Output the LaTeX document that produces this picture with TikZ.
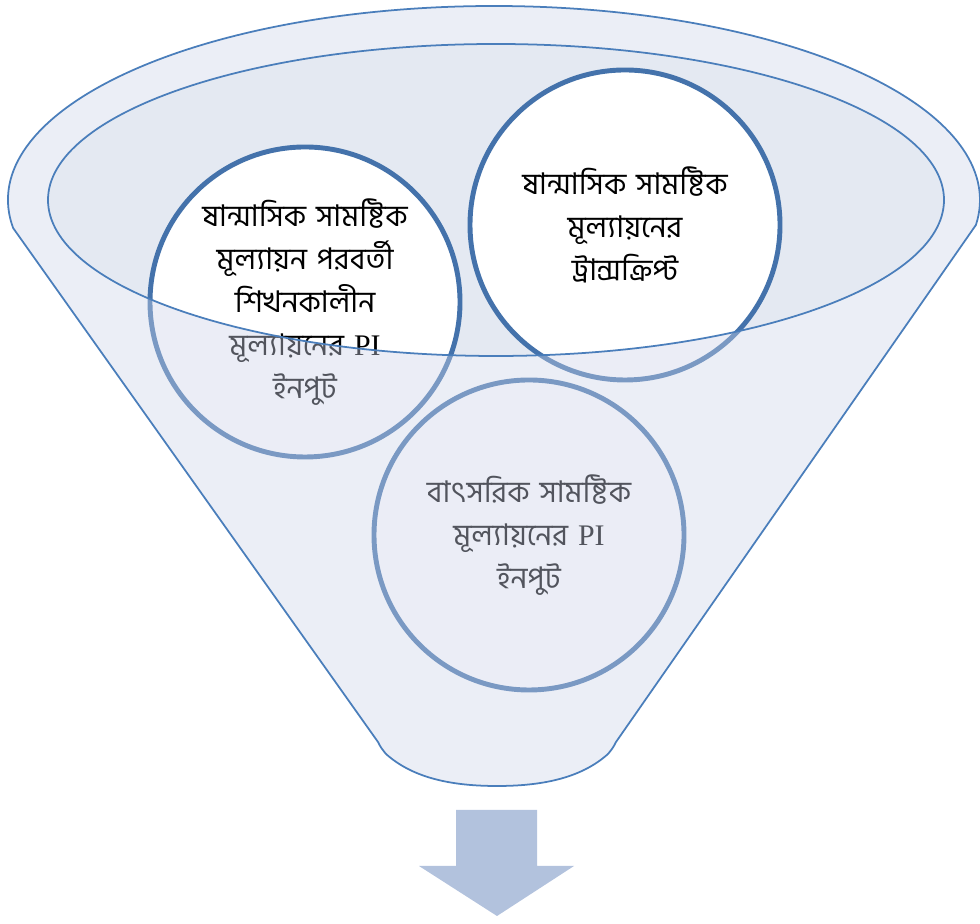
\documentclass[tikz,border=0pt]{standalone}
\usepackage{fontspec}
\usepackage{tikz}
\usetikzlibrary{positioning}
\newfontfamily\bnfont[Script=Bengali]{Hind Siliguri}
\newfontfamily\latinfont{Liberation Serif}
\definecolor{funnelline}{RGB}{74,126,187}
\definecolor{funnelbody}{RGB}{205,212,233}
\definecolor{mouthfill}{RGB}{228,233,242}
\definecolor{ringblue}{RGB}{68,114,171}
\definecolor{arrowblue}{RGB}{178,194,221}
\tikzstyle{stage}=[draw=ringblue,fill=white,circle,line width=2.8pt,minimum size=6.2cm,inner sep=0pt,text width=4.4cm,align=center,font=\bnfont\fontsize{17}{24.4}\selectfont]

\begin{document}
\begin{tikzpicture}[x=0.2mm,y=0.2mm]
\useasboundingbox (0,0) rectangle (980,924);
% mouth of the funnel
\fill[mouthfill] (496,724) ellipse [x radius=448, y radius=156];
\draw (305,622) node [stage] (c1) {ষান্মাসিক সামষ্টিক\\মূল্যায়ন পরবর্তী\\শিখনকালীন\\মূল্যায়নের {\latinfont PI}\\ইনপুট};
\draw (625,699) node [stage] (c2) {ষান্মাসিক সামষ্টিক\\মূল্যায়নের\\ট্রান্সক্রিপ্ট};
\draw (529,389) node [stage] (c3) {বাৎসরিক সামষ্টিক\\মূল্যায়নের {\latinfont PI}\\ইনপুট};
% funnel body over the circles
\fill[funnelbody, fill opacity=0.4, even odd rule] (13.1,696) arc [start angle=188.3, end angle=-7.4, x radius=486, y radius=194]
  -- (616,182) .. controls (613,176) and (612,175) .. (608,170) .. controls (580,145) and (540,138) .. (497,138)
  .. controls (454,138) and (414,145) .. (386,170) .. controls (382,175) and (381,176) .. (378,182) -- cycle
  (496,724) ellipse [x radius=448, y radius=156];
\draw[funnelline, line width=1pt] (13.1,696) arc [start angle=188.3, end angle=-7.4, x radius=486, y radius=194]
  -- (616,182) .. controls (613,176) and (612,175) .. (608,170) .. controls (580,145) and (540,138) .. (497,138)
  .. controls (454,138) and (414,145) .. (386,170) .. controls (382,175) and (381,176) .. (378,182) -- cycle;
\draw[funnelline, line width=1pt] (496,724) ellipse [x radius=448, y radius=156];
% arrow below
\fill[arrowblue] (456,114) -- (537,114) -- (537,58) -- (574,58) -- (497,8) -- (419,58) -- (456,58) -- cycle;
\end{tikzpicture}
\end{document}
